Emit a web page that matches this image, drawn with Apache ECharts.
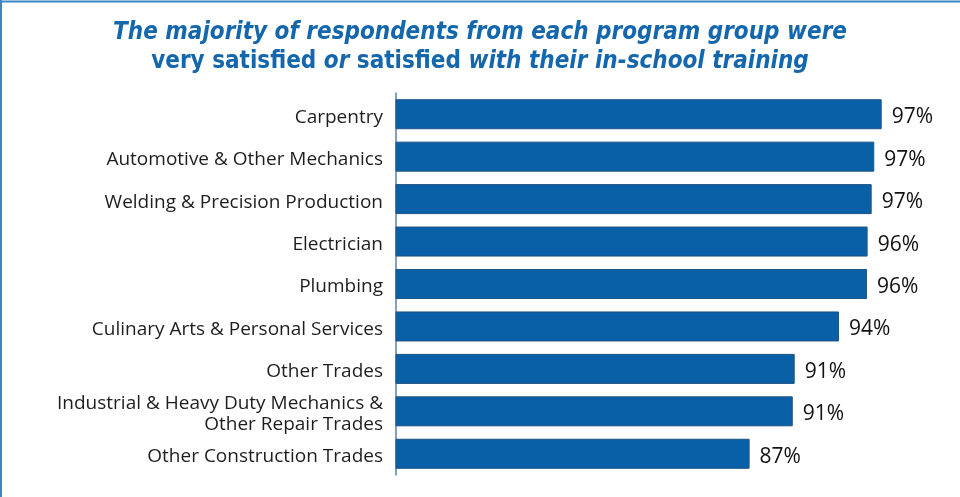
<!DOCTYPE html>
<html>
<head>
<meta charset="utf-8">
<style>
  html, body { margin: 0; padding: 0; background: #fff; }
  #chart { width: 960px; height: 497px; }
</style>
<script src="https://cdn.jsdelivr.net/npm/echarts@6/dist/echarts.min.js"></script>
</head>
<body>
<div id="chart"></div>
<script>
// Program groups, top to bottom
const programs = [
  'Carpentry',
  'Automotive & Other Mechanics',
  'Welding & Precision Production',
  'Electrician',
  'Plumbing',
  'Culinary Arts & Personal Services',
  'Other Trades',
  'Industrial & Heavy Duty Mechanics &\nOther Repair Trades',
  'Other Construction Trades'
];
// Share of respondents very satisfied or satisfied (%)
const satisfied = [97.36, 96.79, 96.59, 96.28, 96.23, 94.08, 90.67, 90.52, 87.2];

const blue = '#0a60a6';
const labelFont = '"Open Sans", "Noto Sans", sans-serif';
const titleFont = '"Liberation Sans Narrow", "DejaVu Sans Condensed", "Open Sans", sans-serif';

const chart = echarts.init(document.getElementById('chart'), null, { renderer: 'canvas' });

chart.setOption({
  backgroundColor: '#ffffff',
  animation: false,
  title: {
    text: '{i|The majority of respondents from each program group were}\n' +
          '{b|very satisfied }{i|or }{b|satisfied }{i|with their in-school training}',
    left: 'center',
    top: 13,
    textStyle: {
      lineHeight: 29,
      rich: {
        i: { fontFamily: titleFont, fontStyle: 'italic', fontWeight: 'bold', fontSize: 24, color: '#1467ad', lineHeight: 29 },
        b: { fontFamily: titleFont, fontStyle: 'normal', fontWeight: 'bold', fontSize: 24, color: '#1467ad', lineHeight: 29 }
      }
    }
  },
  graphic: [
    { type: 'line', shape: { x1: 0, y1: 1.5, x2: 960, y2: 1.5 }, style: { stroke: '#3a85c2', lineWidth: 2 } },
    { type: 'line', shape: { x1: 1, y1: 0, x2: 1, y2: 497 }, style: { stroke: '#3a85c2', lineWidth: 2 } }
  ],
  grid: { left: 396, right: 44, top: 93, height: 382, containLabel: false },
  xAxis: {
    type: 'value',
    min: 60,
    max: 100,
    show: false
  },
  yAxis: {
    type: 'category',
    data: programs,
    inverse: true,
    axisLine: { show: true, lineStyle: { color: '#5a7fa6', width: 1.5 } },
    axisTick: { show: false },
    axisLabel: {
      margin: 13,
      align: 'right',
      // nudge the category names a little below the bar centre
      formatter: name => name.split('\n').map(line => '{n|' + line + '}').join('\n'),
      rich: {
        n: {
          fontFamily: labelFont,
          fontSize: 19,
          color: '#1e1e1e',
          lineHeight: 21,
          padding: [6, 0, 0, 0]
        }
      }
    }
  },
  series: [{
    type: 'bar',
    data: satisfied,
    barWidth: 30,
    itemStyle: { color: blue, borderColor: '#1d5385', borderWidth: 1 },
    label: {
      show: true,
      position: 'right',
      distance: 10,
      fontFamily: labelFont,
      fontSize: 21,
      color: '#111',
      offset: [0, 3],
      formatter: p => Math.round(p.value) + '%'
    }
  }]
});
</script>
</body>
</html>
